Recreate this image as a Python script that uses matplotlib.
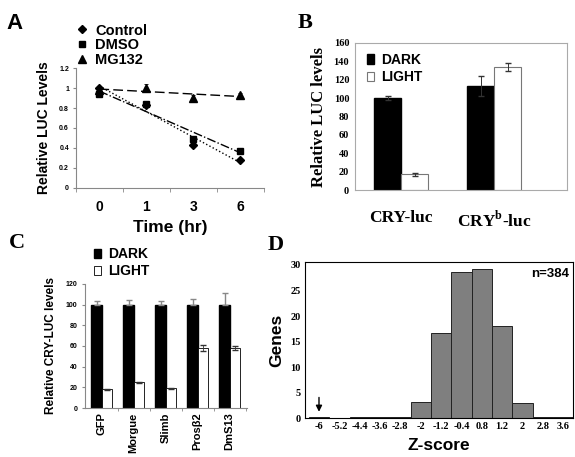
import numpy as np
import matplotlib
matplotlib.use("Agg")
import matplotlib.pyplot as plt
from matplotlib.ticker import FixedLocator

SANS = "Liberation Sans"
SERIF = "Liberation Serif"

# superscript in panel B should stay in the bold serif face
plt.rcParams["mathtext.fontset"] = "custom"
plt.rcParams["mathtext.rm"] = "Liberation Serif:bold"
plt.rcParams["mathtext.bf"] = "Liberation Serif:bold"

# ---- panel A: LUC decay time course
time_labels = ["0", "1", "3", "6"]
control = [1.00, 0.83, 0.43, 0.28]
control_err = [0.02, 0.02, 0.02, 0.01]
dmso = [0.94, 0.84, 0.49, 0.37]
dmso_err = [0.02, 0.02, 0.02, 0.01]
mg132 = [0.98, 1.00, 0.90, 0.93]
mg132_err = [0.04, 0.04, 0.03, 0.02]

# ---- panel B: CRY-luc vs CRYb-luc
b_groups = ["CRY-luc", r"CRY$^{\mathrm{b}}$-luc"]
b_dark = [100, 113]
b_dark_err = [2, 11]
b_light = [17, 134]
b_light_err = [1.5, 4]

# ---- panel C: RNAi knockdowns
c_groups = ["GFP", "Morgue", "Slimb", "Prosβ2", "DmS13"]
c_dark = [100, 100, 100, 100, 100]
c_dark_err = [3, 4, 3, 5, 11]
c_light = [18, 25, 19, 58, 58]
c_light_err = [0.5, 0.5, 0.5, 3, 2]

# ---- panel D: Z-score histogram
z_labels = ["-6", "-5.2", "-4.4", "-3.6", "-2.8", "-2", "-1.2", "-0.4",
            "0.8", "1.2", "2", "2.8", "3.6"]
z_counts = [0.26, 0.0, 0.26, 0.26, 0.26, 3.1, 16.7, 28.6, 29.2, 18.0, 2.9, 0.26, 0.26]

fig = plt.figure(figsize=(5.75, 4.57), dpi=100)
fig.patch.set_facecolor("white")

# ============================ A
axA = fig.add_axes([0.132, 0.589, 0.327, 0.262])
xa = np.arange(len(time_labels))
series = [
    ("Control", control, control_err, "D", ":", 4.5),
    ("DMSO", dmso, dmso_err, "s", "-.", 4.5),
    ("MG132", mg132, mg132_err, "^", (0, (7, 3)), 5.5),
]
handles = []
for name, vals, err, mk, ls, ms in series:
    axA.errorbar(xa, vals, yerr=err, fmt="none", ecolor="black", elinewidth=0.6,
                 capsize=1.5, capthick=0.6)
    h, = axA.plot(xa, vals, linestyle="none", marker=mk, color="black", ms=ms,
                  label=name)
    handles.append(h)
    # linear trend line through the points, as in the original
    k, c0 = np.polyfit(xa, vals, 1)
    axA.plot(xa, k * xa + c0, color="black", lw=1.0, linestyle=ls)
axA.set_xlim(-0.5, 3.5)
axA.set_ylim(0, 1.2)
axA.set_yticks(np.arange(0, 1.21, 0.2))
axA.set_yticklabels(["0", "0.2", "0.4", "0.6", "0.8", "1", "1.2"])
axA.set_xticks(xa)
axA.set_xticklabels(time_labels)
axA.xaxis.set_minor_locator(FixedLocator([-0.5, 0.5, 1.5, 2.5, 3.5]))
axA.tick_params(axis="x", which="major", length=0, pad=9)
axA.tick_params(axis="x", which="minor", length=3, color="#888888")
axA.tick_params(axis="y", length=2, color="#888888", labelsize=5, pad=3)
for lab in axA.get_yticklabels():
    lab.set_fontweight("bold")
    lab.set_family(SANS)
for lab in axA.get_xticklabels():
    lab.set_fontweight("bold")
    lab.set_family(SANS)
    lab.set_fontsize(10)
for s in ["top", "right"]:
    axA.spines[s].set_visible(False)
for s in ["left", "bottom"]:
    axA.spines[s].set_color("#888888")
    axA.spines[s].set_linewidth(0.8)
axA.set_ylabel("Relative LUC Levels", fontsize=10, fontweight="bold", family=SANS,
               labelpad=6)
axA.set_xlabel("Time (hr)", fontsize=12.5, fontweight="bold", family=SANS, labelpad=4)
axA.legend(handles=handles, loc="lower left", bbox_to_anchor=(-0.02, 0.96),
           frameon=False, handlelength=0.6, handletextpad=0.6, labelspacing=0.05,
           borderaxespad=0, prop={"family": SANS, "weight": "bold", "size": 10.5})

# ============================ B
axB = fig.add_axes([0.617, 0.584, 0.369, 0.322])
xb = np.arange(len(b_groups))
wb = 0.29
axB.bar(xb - wb / 2, b_dark, wb, color="black", edgecolor="black", label="DARK",
        yerr=b_dark_err, error_kw=dict(ecolor="#333333", elinewidth=0.7, capsize=2))
axB.bar(xb + wb / 2, b_light, wb, color="white", edgecolor="#777777", lw=0.8,
        label="LIGHT", yerr=b_light_err,
        error_kw=dict(ecolor="#333333", elinewidth=0.7, capsize=2))
axB.set_xlim(-0.5, 1.78)
axB.set_ylim(0, 160)
axB.set_yticks(np.arange(0, 161, 20))
axB.set_xticks(xb)
axB.set_xticklabels(b_groups)
axB.tick_params(axis="x", length=0, pad=14, labelsize=12.5)
axB.tick_params(axis="y", length=0, labelsize=7.5, pad=4)
for lab in axB.get_xticklabels() + axB.get_yticklabels():
    lab.set_fontweight("bold")
    lab.set_family(SERIF)
for s in axB.spines.values():
    s.set_color("#aaaaaa")
    s.set_linewidth(0.8)
axB.set_ylabel("Relative LUC levels", fontsize=12, fontweight="bold", family=SERIF,
               labelpad=5)
axB.legend(loc="upper left", bbox_to_anchor=(0.03, 0.97), frameon=False,
           handlelength=0.55, handleheight=0.65, handletextpad=0.5, labelspacing=0.25,
           borderaxespad=0, prop={"family": SANS, "weight": "bold", "size": 10})

# ============================ C
axC = fig.add_axes([0.148, 0.107, 0.282, 0.272])
xc = np.arange(len(c_groups))
wc = 0.32
axC.bar(xc - wc / 2, c_dark, wc, color="black", edgecolor="black", label="DARK",
        yerr=[np.zeros(len(c_dark)), c_dark_err],
        error_kw=dict(ecolor="#888888", elinewidth=1.0, capsize=2))
axC.bar(xc + wc / 2, c_light, wc, color="white", edgecolor="black", lw=0.6,
        label="LIGHT", yerr=c_light_err,
        error_kw=dict(ecolor="#333333", elinewidth=0.6, capsize=2))
axC.set_xlim(-0.52, 4.55)
axC.set_ylim(0, 120)
axC.set_yticks(np.arange(0, 121, 20))
axC.set_xticks(xc)
axC.set_xticklabels(c_groups, rotation=90)
axC.xaxis.set_minor_locator(FixedLocator([0.5, 1.5, 2.5, 3.5, 4.5]))
axC.tick_params(axis="x", which="major", length=0, pad=3, labelsize=8)
axC.tick_params(axis="x", which="minor", length=2.5, color="#888888")
axC.tick_params(axis="y", length=2.5, color="#888888", labelsize=5, pad=3)
for lab in axC.get_xticklabels() + axC.get_yticklabels():
    lab.set_fontweight("bold")
    lab.set_family(SANS)
for s in ["top", "right"]:
    axC.spines[s].set_visible(False)
for s in ["left", "bottom"]:
    axC.spines[s].set_color("#888888")
    axC.spines[s].set_linewidth(0.8)
axC.set_ylabel("Relative CRY-LUC levels", fontsize=8.5, fontweight="bold",
               family=SANS, labelpad=6)
axC.legend(loc="lower left", bbox_to_anchor=(0.02, 1.0), frameon=False,
           handlelength=0.5, handleheight=0.6, handletextpad=0.5, labelspacing=0.2,
           borderaxespad=0, prop={"family": SANS, "weight": "bold", "size": 10})

# ============================ D
axD = fig.add_axes([0.530, 0.085, 0.467, 0.342])
xd = np.arange(len(z_labels))
axD.bar(xd, z_counts, 1.0, color="#7f7f7f", edgecolor="#222222", lw=0.7)
axD.set_xlim(-0.7, 12.5)
axD.set_ylim(0, 30.6)
axD.set_yticks(np.arange(0, 31, 5))
axD.set_xticks(xd)
axD.set_xticklabels(z_labels)
axD.tick_params(axis="both", length=0, labelsize=7.5, pad=3)
for lab in axD.get_xticklabels() + axD.get_yticklabels():
    lab.set_fontweight("bold")
    lab.set_family(SERIF)
for s in axD.spines.values():
    s.set_color("black")
    s.set_linewidth(0.8)
axD.set_ylabel("Genes", fontsize=12.5, fontweight="bold", family=SANS, labelpad=4)
axD.set_xlabel("Z-score", fontsize=12.5, fontweight="bold", family=SANS, labelpad=5)
axD.text(0.985, 0.96, "n=384", transform=axD.transAxes, ha="right", va="top",
         fontsize=9.5, fontweight="bold", family=SANS)
axD.annotate("", xy=(0, 0.7), xytext=(0, 4.6),
             arrowprops=dict(arrowstyle="-|>", color="black", lw=1.0,
                             mutation_scale=9))

# ---- panel letters
fig.text(0.012, 0.972, "A", fontsize=16, fontweight="bold", family=SANS, va="top")
fig.text(0.518, 0.972, "B", fontsize=16, fontweight="bold", family=SERIF, va="top")
fig.text(0.016, 0.490, "C", fontsize=16, fontweight="bold", family=SERIF, va="top")
fig.text(0.465, 0.485, "D", fontsize=16, fontweight="bold", family=SERIF, va="top")

fig.savefig("out.png", dpi=100, facecolor="white")
